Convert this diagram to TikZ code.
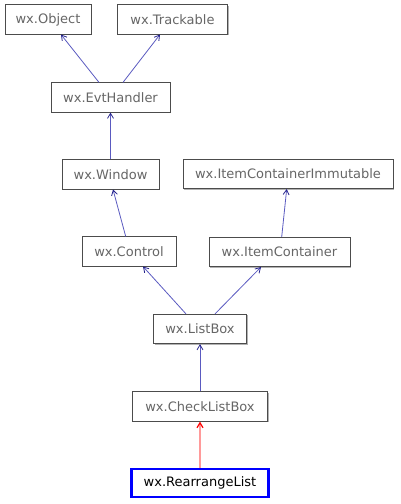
\documentclass[tikz,border=0pt]{standalone}
\usepackage{fontspec}
\setmainfont{DejaVu Sans}
\usetikzlibrary{arrows.meta,shadows}
\definecolor{txtgray}{HTML}{666666}
\definecolor{edgeblue}{HTML}{25238B}
\definecolor{edgeline}{HTML}{5A5AC0}
\definecolor{edgepink}{HTML}{FF9A9A}
\tikzset{
  cls/.style={draw=black!70, line width=0.7pt, fill=white, text=txtgray, font=\fontsize{13}{15}\selectfont, inner sep=0pt, minimum height=29.5pt,
    drop shadow={shadow xshift=1pt, shadow yshift=-1pt, fill=black!30, opacity=1}},
  main/.style={draw=blue, line width=2.4pt, fill=white, text=black, font=\fontsize{13}{15}\selectfont, inner sep=0pt, minimum height=28pt},
  inh/.style={draw=edgeline, line width=0.8pt, -{Straight Barb[length=5pt,width=6pt,color=edgeblue]}},
  inhred/.style={draw=edgepink, line width=1.2pt, -{Straight Barb[length=5pt,width=6pt,color=red]}}
}
\begin{document}
\begin{tikzpicture}[x=1pt,y=-1pt]
\useasboundingbox (0,0) rectangle (401,504);
\node[cls, minimum width=86pt] (obj) at (48,19.5) {wx.Object};
\node[cls, minimum width=110pt] (trk) at (172.5,19.5) {wx.Trackable};
\node[cls, minimum width=119pt] (evt) at (110.5,97.5) {wx.EvtHandler};
\node[cls, minimum width=97pt] (win) at (110.5,174.5) {wx.Window};
\node[cls, minimum width=210pt] (ici) at (288,174) {wx.ItemContainerImmutable};
\node[cls, minimum width=94pt] (ctl) at (129,251.5) {wx.Control};
\node[cls, minimum width=141pt] (ic) at (279.5,252) {wx.ItemContainer};
\node[cls, minimum width=93pt] (lb) at (200,329) {wx.ListBox};
\node[cls, minimum width=135pt] (clb) at (200,406.5) {wx.CheckListBox};
\node[main, minimum width=137pt] (rl) at (200,483) {wx.RearrangeList};
\draw[inh] (evt.north -| 99,0) -- (61,34.5);
\draw[inh] (evt.north -| 123,0) -- (160,34.5);
\draw[inh] (win) -- (evt);
\draw[inh] (ctl.north -| 125.7,0) -- (113,189.5);
\draw[inh] (ic.north -| 281.7,0) -- (286.7,189);
\draw[inh] (lb.north -| 186,0) -- (143,266.5);
\draw[inh] (lb.north -| 215,0) -- (261,267);
\draw[inh] (clb) -- (lb);
\draw[inhred] (rl) -- (clb);
\end{tikzpicture}
\end{document}
